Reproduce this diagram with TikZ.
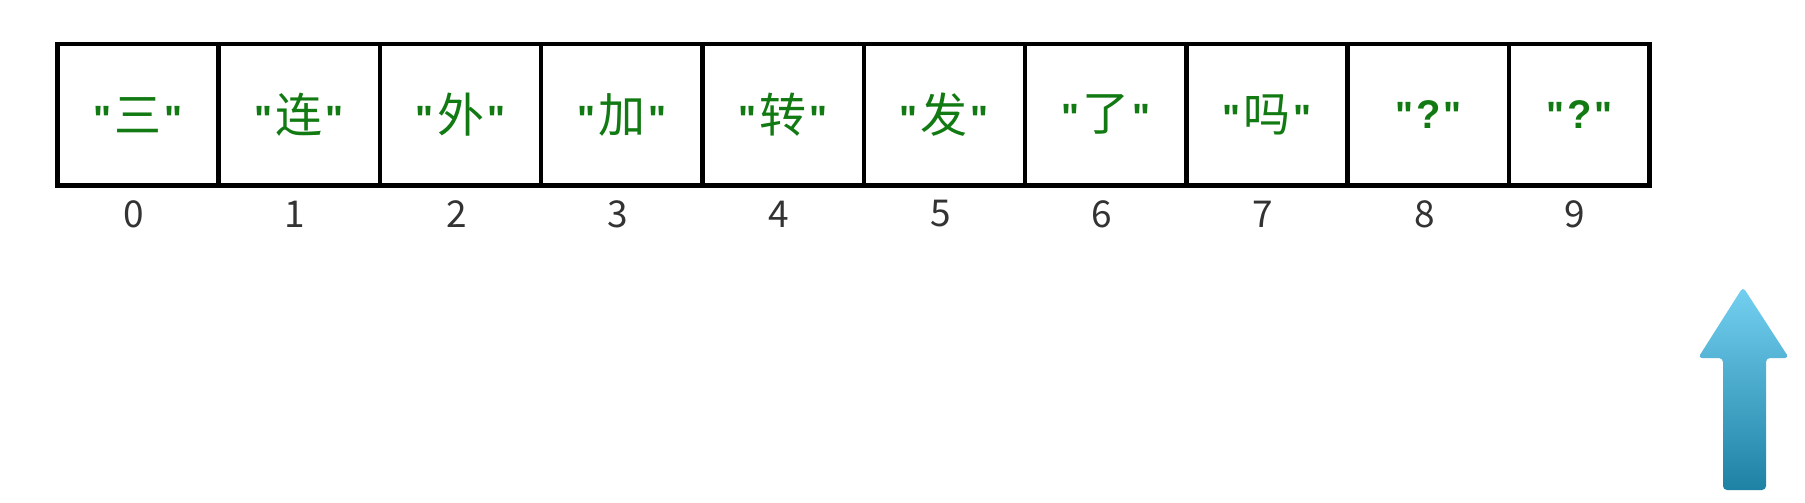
\documentclass[tikz,border=0pt]{standalone}
\usepackage{fontspec}
\setmainfont{Noto Sans CJK SC}
\newfontfamily\cjk{Noto Sans CJK SC}
\newfontfamily\numfont{Noto Sans CJK SC}
\newfontfamily\qfont{Liberation Sans}
\definecolor{txtgreen}{RGB}{18,122,18}
\definecolor{idxgray}{RGB}{51,51,51}
\definecolor{arrtop}{RGB}{116,208,241}
\definecolor{arrbot}{RGB}{30,130,165}
\tikzset{
  cellbox/.style={draw=black, line width=4.5pt, anchor=north west, minimum height=141pt, inner sep=0pt,
     font=\cjk\fontsize{47}{50}\selectfont, text=txtgreen},
  idx/.style={font=\numfont\fontsize{37}{40}\selectfont, text=idxgray, inner sep=0pt}
}
\newcommand{\qmark}{{\qfont\bfseries\fontsize{38}{40}\selectfont"}}
\newcommand{\qt}[1]{\qmark\kern3pt #1\kern3pt\qmark}
\begin{document}
\begin{tikzpicture}[x=1pt,y=-1pt]
\useasboundingbox (0,0) rectangle (1805,503);
\fill[white] (0,0) rectangle (1805,503);
\node[cellbox, minimum width=161.3pt] (c0) at (55,42) {\qt{三}};
\node[cellbox, minimum width=161.3pt] (c1) at (216.3,42) {\qt{连}};
\node[cellbox, minimum width=161.3pt] (c2) at (377.6,42) {\qt{外}};
\node[cellbox, minimum width=161.3pt] (c3) at (538.9,42) {\qt{加}};
\node[cellbox, minimum width=161.3pt] (c4) at (700.2,42) {\qt{转}};
\node[cellbox, minimum width=161.3pt] (c5) at (861.5,42) {\qt{发}};
\node[cellbox, minimum width=161.3pt] (c6) at (1022.8,42) {\qt{了}};
\node[cellbox, minimum width=161.3pt] (c7) at (1184.1,42) {\qt{吗}};
\node[cellbox, minimum width=161.3pt] (c8) at (1345.4,42) {\qt{{\qfont\bfseries\fontsize{40}{40}\selectfont ?}}};
\node[cellbox, minimum width=140.6pt] (c9) at (1506.7,42) {\qt{{\qfont\bfseries\fontsize{40}{40}\selectfont ?}}};
\foreach \i in {0,...,9}{
  \node[idx] (n\i) at ([xshift=-4pt]c\i.center |- 0,214) {\i};
}
\shade[top color=arrtop, bottom color=arrbot, rounded corners=4pt]
  (1723,490) -- (1723,358) -- (1698,358) -- (1743,287) -- (1789,358) -- (1766,358) -- (1766,490) -- cycle;
\end{tikzpicture}
\end{document}
